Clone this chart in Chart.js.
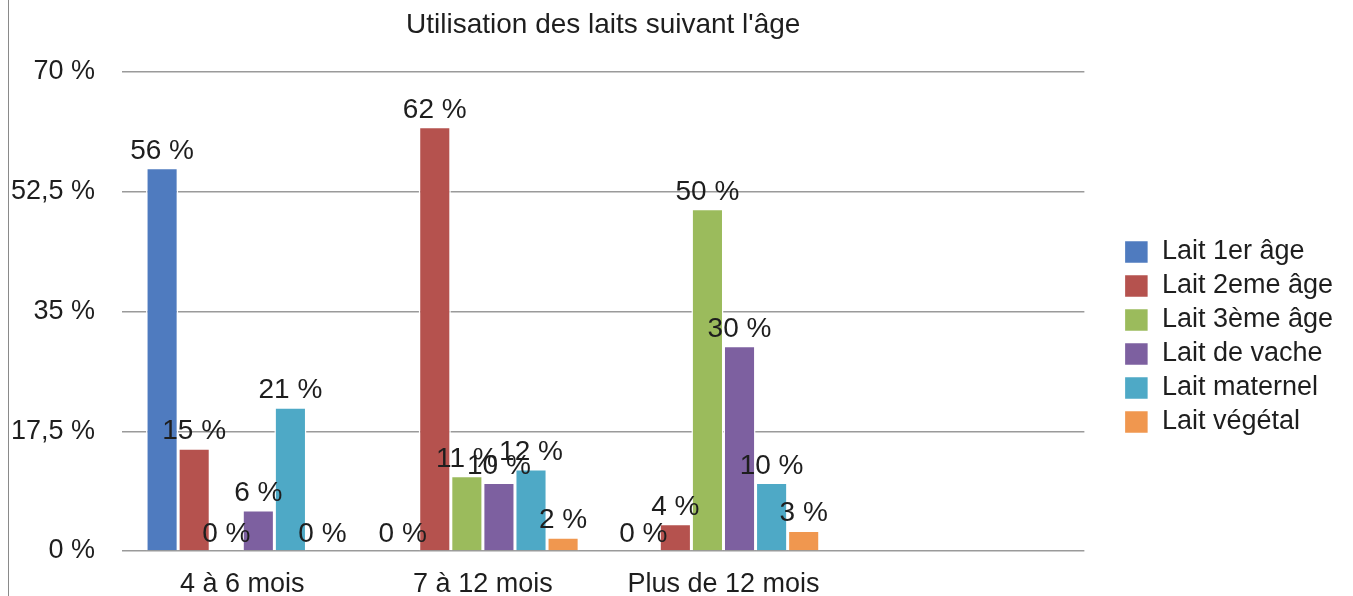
<!DOCTYPE html>
<html>
<head>
<meta charset="utf-8">
<script src="https://cdn.jsdelivr.net/npm/chart.js@4/dist/chart.umd.min.js"></script>
<style>
  html, body { margin: 0; padding: 0; background: #fff; }
  #wrap { position: relative; width: 1353px; height: 596px; }
  #edge { position: absolute; left: 8px; top: 0; width: 1px; height: 596px; background: #8a8a8a; }
</style>
</head>
<body>
<div id="wrap">
  <canvas id="chart"></canvas>
  <div id="edge"></div>
</div>
<script>
(function () {
  'use strict';

  var categories = ['4 à 6 mois', '7 à 12 mois', 'Plus de 12 mois', ''];
  var seriesNames = ['Lait 1er âge', 'Lait 2eme âge', 'Lait 3ème âge', 'Lait de vache', 'Lait maternel', 'Lait végétal'];
  var lait1 = [56, 0, 0];
  var lait2 = [15, 62, 4];
  var lait3 = [0, 11, 50];
  var vache = [6, 10, 30];
  var maternel = [21, 12, 10];
  var vegetal = [0, 2, 3];
  var yTicks = [0, 17.5, 35, 52.5, 70];
  var yTickLabels = ['0 %', '17,5 %', '35 %', '52,5 %', '70 %'];

  var colors = ['#4f7bbf', '#b5524e', '#9bbb5c', '#7d60a0', '#4ea9c6', '#f0974f'];
  var FONT = '"Liberation Sans", Arial, Helvetica, sans-serif';
  var TEXT = '#1e1e1e';

  var seriesValues = [lait1, lait2, lait3, vache, maternel, vegetal];
  var datasets = seriesValues.map(function (vals, i) {
    return {
      label: seriesNames[i],
      data: vals,
      backgroundColor: colors[i],
      borderColor: '#ffffff',
      borderWidth: 1.5,
      categoryPercentage: 0.8,
      barPercentage: 1.0
    };
  });

  var valueLabels = {
    id: 'valueLabels',
    afterDatasetsDraw: function (chart) {
      var ctx = chart.ctx;
      ctx.save();
      ctx.font = '28px ' + FONT;
      ctx.fillStyle = TEXT;
      ctx.textAlign = 'center';
      ctx.textBaseline = 'alphabetic';
      chart.data.datasets.forEach(function (ds, i) {
        var meta = chart.getDatasetMeta(i);
        meta.data.forEach(function (bar, j) {
          var v = ds.data[j];
          if (v === null || v === undefined) return;
          ctx.fillText(v + ' %', bar.x, bar.y - 9);
        });
      });
      ctx.restore();
    }
  };

  // nudge the legend block to where the original sits
  var legendShift = {
    id: 'legendShift',
    afterLayout: function (chart) {
      var l = chart.legend;
      if (!l) return;
      var dx = 33, dy = 39;
      l.left += dx; l.right += dx;
      l.top += dy; l.bottom += dy;
    }
  };

  new Chart(document.getElementById('chart').getContext('2d'), {
    type: 'bar',
    data: { labels: categories, datasets: datasets },
    plugins: [valueLabels, legendShift],
    options: {
      responsive: true,
      maintainAspectRatio: false,
      animation: false,
      layout: { padding: { left: 0, right: 43, top: 0, bottom: 0 } },
      plugins: {
        title: {
          display: true,
          text: "Utilisation des laits suivant l'âge",
          color: TEXT,
          fullSize: false,
          font: { family: FONT, size: 28, weight: 'normal' },
          padding: { top: 8, bottom: 30.4 }
        },
        legend: {
          position: 'right',
          labels: {
            color: TEXT,
            font: { family: FONT, size: 27 },
            boxWidth: 24,
            boxHeight: 23,
            padding: 7
          }
        },
        tooltip: { enabled: false }
      },
      scales: {
        x: {
          grid: { display: false, drawTicks: false },
          border: { display: false },
          ticks: { color: TEXT, font: { family: FONT, size: 27 }, padding: 17, maxRotation: 0 },
          afterFit: function (scale) { scale.height = 45; }
        },
        y: {
          min: 0,
          max: 70,
          border: { display: false },
          grid: { color: '#9a9a9a', lineWidth: 1.5, drawTicks: false },
          afterBuildTicks: function (scale) {
            scale.ticks = yTicks.map(function (v) { return { value: v }; });
          },
          ticks: {
            color: TEXT,
            font: { family: FONT, size: 27 },
            padding: 27,
            callback: function (value) {
              var k = yTicks.indexOf(value);
              return k >= 0 ? yTickLabels[k] : '';
            }
          },
          afterFit: function (scale) { scale.width = 122; }
        }
      }
    }
  });
})();
</script>
</body>
</html>
